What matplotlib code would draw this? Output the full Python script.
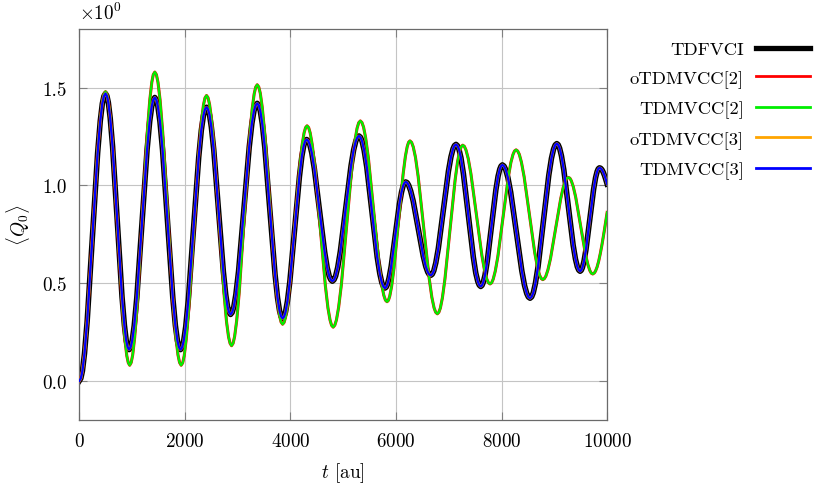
import matplotlib
matplotlib.use('Agg')
import matplotlib.pyplot as plt

plt.rcParams['font.family'] = ['cmr10', 'DejaVu Serif']
plt.rcParams['mathtext.fontset'] = 'cm'
plt.rcParams['axes.formatter.use_mathtext'] = True

# TDFVCI (TDMVCC[3] and oTDMVCC[3] lie on top of it)
t_fvci = [0, 30, 60, 99, 149, 249, 348, 398, 437, 467,
          497, 524, 551, 586, 631, 720, 810, 855, 890, 917,
          944, 973, 1002, 1041, 1090, 1188, 1285, 1334, 1373, 1402,
          1431, 1460, 1489, 1528, 1577, 1675, 1772, 1821, 1860, 1889,
          1918, 1948, 1977, 2017, 2066, 2165, 2263, 2312, 2352, 2381,
          2411, 2438, 2466, 2502, 2548, 2639, 2730, 2775, 2811, 2839,
          2866, 2896, 2927, 2967, 3018, 3119, 3220, 3270, 3310, 3341,
          3371, 3400, 3429, 3467, 3515, 3612, 3708, 3756, 3794, 3823,
          3852, 3879, 3907, 3943, 3989, 4080, 4171, 4216, 4252, 4280,
          4307, 4336, 4366, 4405, 4453, 4551, 4649, 4697, 4736, 4766,
          4795, 4825, 4856, 4896, 4946, 5047, 5148, 5198, 5239, 5269,
          5299, 5329, 5358, 5397, 5447, 5545, 5643, 5693, 5732, 5762,
          5791, 5815, 5838, 5869, 5909, 5987, 6065, 6105, 6136, 6160,
          6183, 6212, 6240, 6278, 6326, 6421, 6516, 6563, 6601, 6630,
          6658, 6687, 6716, 6754, 6802, 6898, 6993, 7041, 7080, 7108,
          7137, 7165, 7193, 7231, 7277, 7371, 7465, 7511, 7549, 7577,
          7605, 7630, 7654, 7687, 7728, 7810, 7892, 7933, 7966, 7990,
          8015, 8046, 8078, 8120, 8173, 8278, 8383, 8435, 8477, 8508,
          8540, 8570, 8601, 8641, 8692, 8793, 8894, 8945, 8985, 9016,
          9046, 9073, 9099, 9134, 9179, 9267, 9355, 9400, 9435, 9462,
          9488, 9510, 9532, 9561, 9598, 9671, 9744, 9781, 9810, 9832,
          9854, 9877, 9900, 9925, 9950, 9975, 10000]
q_fvci = [0.0, 0.013, 0.051, 0.140, 0.303, 0.735, 1.167, 1.330, 1.419, 1.457,
          1.47, 1.458, 1.424, 1.345, 1.200, 0.815, 0.430, 0.285, 0.206, 0.172,
          0.16, 0.172, 0.205, 0.283, 0.426, 0.805, 1.184, 1.327, 1.405, 1.438,
          1.45, 1.438, 1.405, 1.327, 1.184, 0.805, 0.426, 0.283, 0.205, 0.172,
          0.16, 0.171, 0.203, 0.278, 0.415, 0.78, 1.145, 1.282, 1.357, 1.389,
          1.40, 1.39, 1.363, 1.299, 1.182, 0.87, 0.558, 0.441, 0.377, 0.35,
          0.34, 0.35, 0.378, 0.443, 0.562, 0.88, 1.197, 1.317, 1.382, 1.41,
          1.42, 1.41, 1.381, 1.315, 1.193, 0.87, 0.547, 0.425, 0.359, 0.33,
          0.32, 0.328, 0.352, 0.407, 0.508, 0.778, 1.046, 1.148, 1.203, 1.227,
          1.235, 1.229, 1.21, 1.166, 1.086, 0.873, 0.659, 0.579, 0.535, 0.517,
          0.51, 0.517, 0.536, 0.581, 0.663, 0.882, 1.100, 1.182, 1.227, 1.246,
          1.253, 1.246, 1.226, 1.179, 1.093, 0.864, 0.635, 0.549, 0.502, 0.482,
          0.475, 0.48, 0.494, 0.527, 0.587, 0.747, 0.906, 0.966, 0.999, 1.013,
          1.018, 1.014, 1.001, 0.972, 0.92, 0.779, 0.639, 0.586, 0.557, 0.544,
          0.54, 0.546, 0.563, 0.604, 0.678, 0.875, 1.072, 1.146, 1.187, 1.204,
          1.21, 1.203, 1.185, 1.141, 1.06, 0.847, 0.633, 0.552, 0.509, 0.49,
          0.483, 0.489, 0.505, 0.542, 0.611, 0.794, 0.977, 1.046, 1.083, 1.099,
          1.105, 1.099, 1.081, 1.04, 0.965, 0.764, 0.564, 0.488, 0.447, 0.429,
          0.423, 0.43, 0.451, 0.499, 0.586, 0.819, 1.051, 1.139, 1.186, 1.207,
          1.214, 1.208, 1.191, 1.152, 1.080, 0.888, 0.696, 0.623, 0.584, 0.567,
          0.561, 0.566, 0.580, 0.612, 0.67, 0.826, 0.981, 1.04, 1.071, 1.085,
          1.09, 1.088, 1.081, 1.068, 1.051, 1.03, 1.007]

# TDMVCC[2] (oTDMVCC[2] lies on top of it)
t_mvcc2 = [0, 30, 60, 99, 149, 249, 348, 398, 437, 467,
           497, 524, 552, 589, 634, 726, 818, 863, 900, 928,
           955, 984, 1012, 1050, 1098, 1193, 1288, 1336, 1374, 1402,
           1431, 1461, 1491, 1531, 1581, 1680, 1780, 1830, 1870, 1900,
           1930, 1959, 1988, 2026, 2074, 2170, 2267, 2315, 2353, 2382,
           2411, 2439, 2468, 2506, 2553, 2648, 2743, 2790, 2828, 2857,
           2885, 2914, 2943, 2982, 3031, 3128, 3225, 3274, 3313, 3342,
           3371, 3400, 3429, 3467, 3515, 3612, 3708, 3756, 3794, 3823,
           3852, 3880, 3908, 3945, 3991, 4084, 4176, 4222, 4259, 4287,
           4315, 4345, 4374, 4414, 4464, 4563, 4662, 4711, 4751, 4780,
           4810, 4841, 4872, 4913, 4965, 5068, 5171, 5222, 5263, 5294,
           5325, 5355, 5386, 5426, 5477, 5578, 5679, 5729, 5769, 5800,
           5830, 5856, 5882, 5917, 5961, 6048, 6135, 6178, 6213, 6239,
           6265, 6296, 6327, 6369, 6420, 6524, 6628, 6679, 6721, 6752,
           6783, 6812, 6841, 6879, 6927, 7024, 7120, 7168, 7206, 7235,
           7264, 7295, 7326, 7368, 7419, 7523, 7627, 7678, 7720, 7751,
           7782, 7812, 7841, 7881, 7930, 8029, 8127, 8176, 8216, 8245,
           8275, 8305, 8336, 8376, 8427, 8528, 8629, 8680, 8720, 8751,
           8781, 8810, 8839, 8878, 8927, 9024, 9121, 9169, 9208, 9237,
           9266, 9294, 9321, 9358, 9405, 9497, 9589, 9636, 9673, 9700,
           9728, 9760, 9780, 9810, 9840, 9870, 9900, 9950, 10000]
q_mvcc2 = [0.0, 0.013, 0.052, 0.141, 0.305, 0.74, 1.175, 1.339, 1.428, 1.467,
           1.48, 1.467, 1.431, 1.346, 1.192, 0.78, 0.368, 0.214, 0.129, 0.093,
           0.08, 0.094, 0.133, 0.223, 0.389, 0.83, 1.271, 1.437, 1.528, 1.567,
           1.58, 1.567, 1.528, 1.437, 1.271, 0.83, 0.389, 0.223, 0.133, 0.094,
           0.08, 0.092, 0.128, 0.212, 0.364, 0.77, 1.176, 1.328, 1.412, 1.448,
           1.46, 1.449, 1.415, 1.338, 1.196, 0.82, 0.444, 0.302, 0.225, 0.192,
           0.18, 0.192, 0.227, 0.308, 0.455, 0.848, 1.24, 1.388, 1.468, 1.503,
           1.515, 1.504, 1.472, 1.398, 1.263, 0.903, 0.543, 0.407, 0.333, 0.301,
           0.29, 0.299, 0.326, 0.387, 0.499, 0.798, 1.096, 1.208, 1.269, 1.296,
           1.305, 1.296, 1.269, 1.207, 1.093, 0.79, 0.487, 0.373, 0.311, 0.284,
           0.275, 0.285, 0.312, 0.376, 0.492, 0.803, 1.113, 1.229, 1.293, 1.321,
           1.33, 1.322, 1.298, 1.242, 1.140, 0.868, 0.596, 0.493, 0.438, 0.413,
           0.405, 0.412, 0.434, 0.484, 0.575, 0.817, 1.058, 1.149, 1.199, 1.221,
           1.228, 1.22, 1.197, 1.144, 1.046, 0.786, 0.526, 0.428, 0.374, 0.351,
           0.343, 0.351, 0.373, 0.425, 0.521, 0.775, 1.028, 1.124, 1.176, 1.198,
           1.206, 1.2, 1.181, 1.138, 1.06, 0.851, 0.642, 0.564, 0.521, 0.502,
           0.496, 0.502, 0.52, 0.562, 0.637, 0.839, 1.041, 1.117, 1.158, 1.176,
           1.182, 1.176, 1.159, 1.119, 1.045, 0.85, 0.655, 0.581, 0.541, 0.524,
           0.518, 0.523, 0.536, 0.568, 0.626, 0.780, 0.933, 0.991, 1.023, 1.036,
           1.041, 1.037, 1.024, 0.994, 0.939, 0.794, 0.649, 0.594, 0.564, 0.551,
           0.547, 0.553, 0.562, 0.583, 0.613, 0.651, 0.694, 0.775, 0.862]

labels = ['TDFVCI', 'oTDMVCC[2]', 'TDMVCC[2]', 'oTDMVCC[3]', 'TDMVCC[3]']
colors = ['black', '#ff0000', '#00ee00', '#ffa500', '#0000ff']

fig = plt.figure(figsize=(8.3, 4.85), dpi=100)
ax = fig.add_axes([0.0955, 0.132, 0.636, 0.806])

ax.plot(t_fvci, q_fvci, color=colors[0], lw=4.0, label=labels[0], zorder=2)
ax.plot(t_mvcc2, q_mvcc2, color=colors[1], lw=2.2, label=labels[1], zorder=3)
ax.plot(t_mvcc2, q_mvcc2, color=colors[2], lw=1.7, label=labels[2], zorder=4)
ax.plot(t_fvci, q_fvci, color=colors[3], lw=2.0, label=labels[3], zorder=5)
ax.plot(t_fvci, q_fvci, color=colors[4], lw=1.7, label=labels[4], zorder=6)

ax.set_xlim(0, 10000)
ax.set_ylim(-0.2, 1.8)
ax.set_xticks([0, 2000, 4000, 6000, 8000, 10000])
ax.set_yticks([0.0, 0.5, 1.0, 1.5])
ax.set_yticklabels(['0.0', '0.5', '1.0', '1.5'])
ax.grid(True, color='#c4c4c4', lw=0.8, zorder=0)
ax.tick_params(direction='in', length=6, width=0.8, color='#808080',
               top=True, right=True, labelsize=13.8, pad=9)
for s in ax.spines.values():
    s.set_color('#6a6a6a')
    s.set_linewidth(0.9)

ax.set_xlabel('$t$ [au]', fontsize=13.8, labelpad=7)
ax.set_ylabel(r'$\langle Q_0\rangle$', fontsize=13.8, labelpad=7)
ax.text(0.0, 1.015, r'$\times10^{0}$', transform=ax.transAxes,
        fontsize=13.8, ha='left', va='bottom')

leg = ax.legend(loc='upper right', bbox_to_anchor=(810 / 830, 1 - 42 / 485),
                bbox_transform=fig.transFigure, frameon=False,
                markerfirst=False, fontsize=13.4, handlelength=2.9,
                handletextpad=0.65, labelspacing=0.68, borderpad=0,
                borderaxespad=0)
for h, w in zip(leg.get_lines(), [3.8, 2.0, 2.0, 2.0, 2.0]):
    h.set_linewidth(w)

fig.savefig('out.png', dpi=100)
